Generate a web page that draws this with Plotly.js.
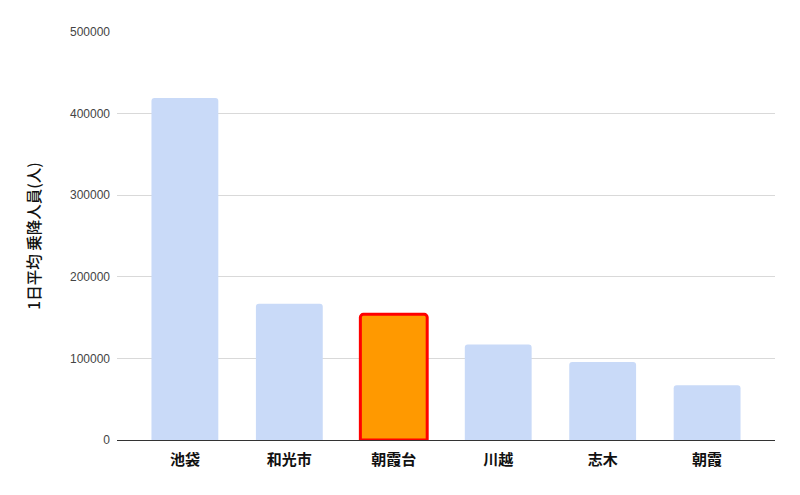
<!DOCTYPE html>
<html>
<head>
<meta charset="utf-8">
<script src="https://cdn.plot.ly/plotly-3.0.1.min.js"></script>
<style>
  html, body { margin: 0; padding: 0; background: #fff; }
  #chart { width: 800px; height: 495px; }
</style>
</head>
<body>
<div id="chart"></div>
<script>
// Stations and daily average passengers
const stations   = ['池袋', '和光市', '朝霞台', '川越', '志木', '朝霞'];
const passengers = [419000, 167000, 154000, 117000, 95500, 67000];
const highlight  = '朝霞台';

const yTicks = [0, 100000, 200000, 300000, 400000, 500000];

const fills  = stations.map(s => s === highlight ? '#ff9900' : '#c9daf8');
const edges  = stations.map(s => s === highlight ? '#ff0000' : 'rgba(0,0,0,0)');
const widths = stations.map(s => s === highlight ? 3 : 0);

const data = [{
    type: 'bar',
    x: stations,
    y: passengers,
    width: 0.64,
    marker: {
        color: fills,
        line: { color: edges, width: widths },
        cornerradius: 3
    },
    hoverinfo: 'x+y'
}];

const layout = {
    width: 800,
    height: 495,
    margin: { l: 117, r: 25, t: 32, b: 55 },
    paper_bgcolor: '#fff',
    plot_bgcolor: '#fff',
    showlegend: false,
    font: { family: 'Roboto, "Noto Sans CJK JP", sans-serif', color: '#222' },
    xaxis: {
        type: 'category',
        range: [-0.65, 5.65],
        showgrid: false,
        showline: true,
        linecolor: '#333',
        linewidth: 1,
        ticks: '',
        ticklabelstandoff: 6,
        tickfont: { size: 15, color: '#111', weight: 'bold', family: '"Noto Sans CJK JP", sans-serif' }
    },
    yaxis: {
        range: [0, 500000],
        tickvals: yTicks,
        ticktext: yTicks.map(String),
        showgrid: true,
        gridcolor: '#d9d9d9',
        zeroline: false,
        ticks: '',
        ticklabelstandoff: 6,
        tickfont: { size: 12, color: '#444', family: '"Liberation Sans", Arial, sans-serif' },
        title: {
            text: '1日平均 乗降人員(人)',
            standoff: 25,
            font: { size: 15.5, color: '#111', weight: 500, family: '"Noto Sans CJK JP", sans-serif' }
        }
    }
};

Plotly.newPlot('chart', data, layout, { staticPlot: true, displayModeBar: false });
</script>
</body>
</html>
